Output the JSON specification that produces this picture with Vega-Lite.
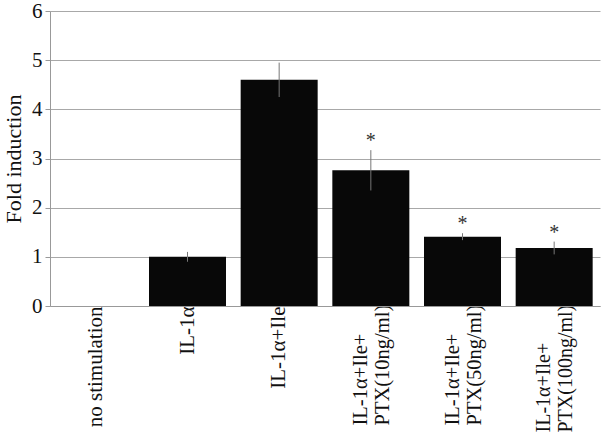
{
  "$schema": "https://vega.github.io/schema/vega-lite/v6.json",
  "width": 550,
  "height": 295,
  "padding": {"top": 0, "left": 2, "right": 2, "bottom": 0},
  "background": "white",
  "config": {
    "font": "Liberation Serif",
    "axis": {"labelFont": "Liberation Serif", "titleFont": "Liberation Serif"},
    "text": {"font": "Liberation Serif"},
    "view": {"stroke": null}
  },
  "data": {
    "values": [
      {"group": "no stimulation", "fold": 0, "upper": 0, "lower": 0, "sig": ""},
      {"group": "IL-1α", "fold": 1.0, "upper": 1.1, "lower": 0.9, "sig": ""},
      {"group": "IL-1α+Ile", "fold": 4.6, "upper": 4.95, "lower": 4.25, "sig": ""},
      {"group": "IL-1α+Ile+|PTX(10ng/ml)", "fold": 2.76, "upper": 3.17, "lower": 2.35, "sig": "*"},
      {"group": "IL-1α+Ile+|PTX(50ng/ml)", "fold": 1.41, "upper": 1.48, "lower": 1.34, "sig": "*"},
      {"group": "IL-1α+Ile+|PTX(100ng/ml)", "fold": 1.18, "upper": 1.31, "lower": 1.05, "sig": "*"}
    ]
  },
  "encoding": {
    "x": {
      "field": "group",
      "type": "nominal",
      "sort": null,
      "scale": {"paddingInner": 0.16, "paddingOuter": 0.08},
      "axis": {
        "title": null,
        "labelAngle": -90,
        "labelAlign": {"condition": {"test": "indexof(datum.value, '|') >= 0", "value": "left"}, "value": "right"},
        "labelBaseline": "middle",
        "labelExpr": "split(datum.label, '|')",
        "labelLineHeight": 22,
        "labelFont": "Liberation Serif",
        "labelFontSize": {"condition": [
          {"test": "indexof(datum.value, '100ng') >= 0", "value": 20},
          {"test": "indexof(datum.value, '|') >= 0", "value": 20.5}
        ], "value": 21},
        "labelColor": "#111",
        "labelPadding": {"condition": [
          {"test": "indexof(datum.value, '100ng') >= 0", "value": 126},
          {"test": "indexof(datum.value, '|') >= 0", "value": 119}
        ], "value": 0},
        "labelOffset": {"condition": {"test": "indexof(datum.value, '|') >= 0", "value": -10}, "value": 0},
        "ticks": false,
        "domainColor": "#999",
        "labelLimit": 0
      }
    }
  },
  "layer": [
    {
      "mark": {"type": "bar", "color": "#080808"},
      "encoding": {
        "y": {
          "field": "fold",
          "type": "quantitative",
          "scale": {"domain": [0, 6], "nice": false},
          "axis": {
            "title": "Fold induction",
            "titleFont": "Liberation Serif",
            "titleFontSize": 22,
            "titleFontWeight": "normal",
            "titleColor": "#111",
            "titlePadding": 6,
            "values": [0, 1, 2, 3, 4, 5, 6],
            "labelFont": "Liberation Serif",
            "labelFontSize": 21,
            "labelColor": "#111",
            "labelPadding": 3,
            "tickSize": 5,
            "tickColor": "#999",
            "domainColor": "#999",
            "gridColor": "#a8a8a8",
            "grid": true
          }
        }
      }
    },
    {
      "mark": {"type": "rule", "color": "#777", "strokeWidth": 1},
      "encoding": {
        "y": {"field": "lower", "type": "quantitative"},
        "y2": {"field": "upper"}
      }
    },
    {
      "mark": {"type": "text", "font": "Liberation Serif", "fontSize": 20, "color": "#333", "baseline": "middle", "dy": -9},
      "encoding": {
        "y": {"field": "upper", "type": "quantitative"},
        "text": {"field": "sig"}
      }
    }
  ]
}
